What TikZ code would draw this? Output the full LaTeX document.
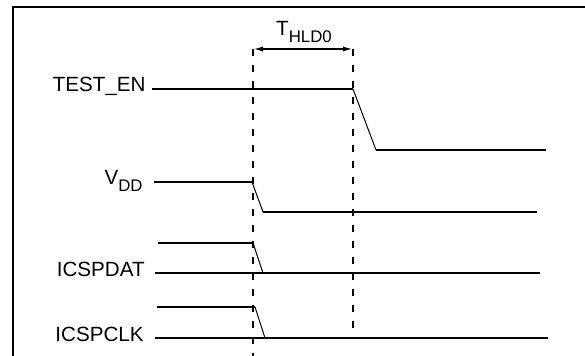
\documentclass[tikz,border=0pt]{standalone}
\usepackage{fontspec}
\setmainfont{Liberation Sans}
\usetikzlibrary{arrows.meta}

\newcommand{\sigsub}[1]{\raisebox{-3.5pt}{\fontsize{8.4}{9}\selectfont #1}}

\begin{document}
\begin{tikzpicture}[x=0.5pt, y=-0.5pt,
  sig/.style={anchor=base east, inner sep=0pt, font=\fontsize{10.3}{12}\selectfont},
  level/.style={line width=0.9pt},
  ramp/.style={line width=0.5pt},
  marker/.style={line width=0.9pt, dash pattern=on 3.5pt off 4.5pt}]
\useasboundingbox (0,0) rectangle (585,356);

% frame
\draw[line width=1.1pt] (13,356) -- (13,7) -- (585,7);

% signal names
\node[sig] (testen) at (146,92) {TEST\_EN};
\node[sig] (vdd) at (143,185) {V\sigsub{DD}};
\node[sig] (dat) at (145,277) {ICSPDAT};
\node[sig] (clk) at (144,342) {ICSPCLK};

% timing markers
\coordinate (mA) at (253,49);
\coordinate (mAend) at (253,356);
\coordinate (mB) at (353,49);
\coordinate (mBend) at (353,337);
\draw[marker] (mA) -- (mAend);
\draw[marker] (mB) -- (mBend);
\draw[line width=0.9pt, {Latex[length=5pt,width=2.6pt]}-{Latex[length=5pt,width=2.6pt]}] (mA) -- (mB);
\node[anchor=base, inner sep=0pt, font=\fontsize{10.3}{12}\selectfont] (thld) at (304,36) {T\sigsub{HLD0}};

% TEST_EN
\coordinate (te0) at (152,89);
\coordinate (te1) at (353,89);
\coordinate (te2) at (376,150);
\coordinate (te3) at (546,150);
\draw[level] (te0) -- (te1);
\draw[ramp] (te1) -- (te2);
\draw[level] (te2) -- (te3);

% VDD
\coordinate (vd0) at (154,182);
\coordinate (vd1) at (252,182);
\coordinate (vd2) at (263,212);
\coordinate (vd3) at (537,212);
\draw[level] (vd0) -- (vd1);
\draw[ramp] (vd1) -- (vd2);
\draw[level] (vd2) -- (vd3);

% ICSPDAT
\coordinate (da0) at (158,243);
\coordinate (da1) at (253,243);
\coordinate (da2) at (263,273);
\coordinate (da3) at (155,273);
\coordinate (da4) at (540,273);
\draw[level] (da0) -- (da1);
\draw[ramp] (da1) -- (da2);
\draw[level] (da3) -- (da4);

% ICSPCLK
\coordinate (ck0) at (157,307);
\coordinate (ck1) at (255,307);
\coordinate (ck2) at (265,338);
\coordinate (ck3) at (155,338);
\coordinate (ck4) at (548,338);
\draw[level] (ck0) -- (ck1);
\draw[ramp] (ck1) -- (ck2);
\draw[level] (ck3) -- (ck4);
\end{tikzpicture}
\end{document}
